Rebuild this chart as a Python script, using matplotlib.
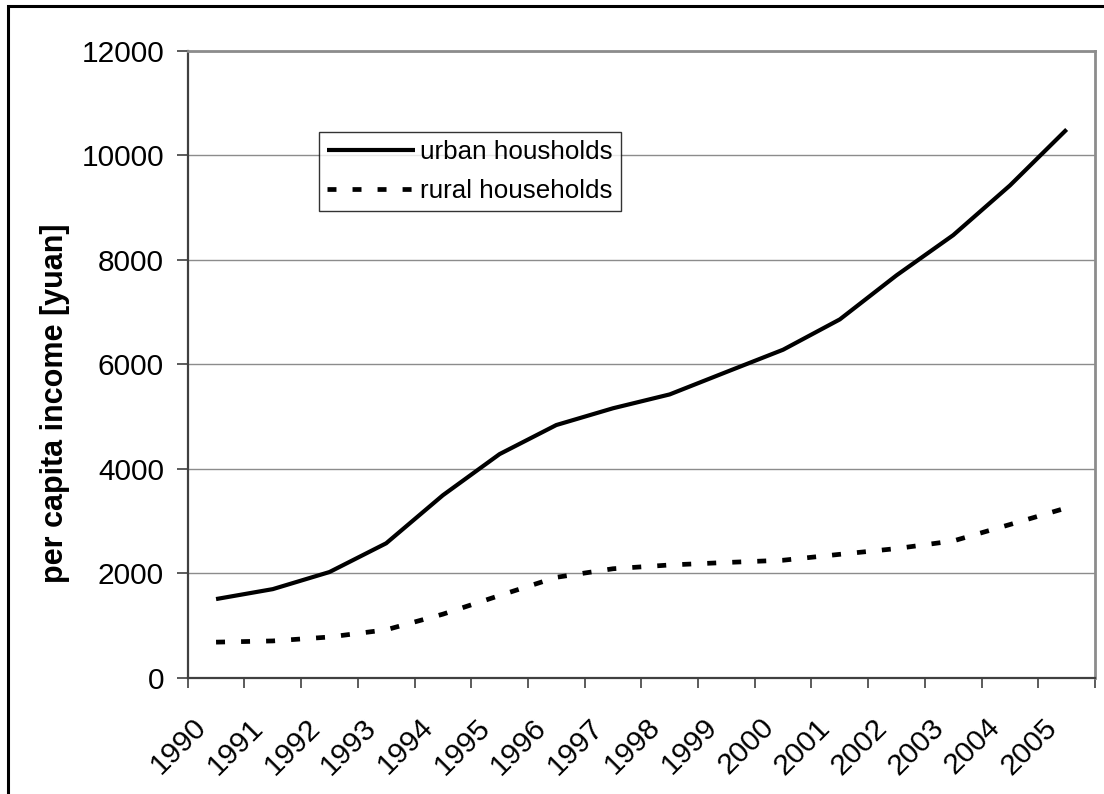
import matplotlib
matplotlib.use("Agg")
import matplotlib.pyplot as plt
import matplotlib.transforms as mtransforms
from matplotlib.patches import Rectangle
import numpy as np

years = ["1990", "1991", "1992", "1993", "1994", "1995", "1996", "1997",
         "1998", "1999", "2000", "2001", "2002", "2003", "2004", "2005"]
urban = [1510, 1700, 2027, 2577, 3496, 4283, 4839, 5160,
         5425, 5854, 6280, 6860, 7703, 8472, 9422, 10493]
rural = [686, 709, 784, 922, 1221, 1578, 1926, 2090,
         2162, 2210, 2253, 2366, 2476, 2622, 2936, 3255]
yticks = [0, 2000, 4000, 6000, 8000, 10000, 12000]
ylabel = "per capita income [yuan]"
legend_labels = ["urban housholds", "rural households"]

plt.rcParams['font.family'] = ['Liberation Sans', 'DejaVu Sans']

W, H = 1104, 794
fig = plt.figure(figsize=(W / 100, H / 100), dpi=100)
fig.patch.set_facecolor('white')

def px(x0, y0, x1, y1):
    return [x0 / W, 1 - y1 / H, (x1 - x0) / W, (y1 - y0) / H]

ax = fig.add_axes(px(187.7, 50.7, 1095, 678))

n = len(years)
xs = np.arange(n) + 0.5
ax.plot(xs, urban, color='black', lw=3.0, solid_capstyle='butt',
        label=legend_labels[0])
ax.plot(xs, rural, color='black', lw=3.4, linestyle=(0, (1.9, 3.4)),
        dash_capstyle='butt', label=legend_labels[1])

ax.set_xlim(0, n)
ax.set_ylim(0, 12000)
ax.set_yticks(yticks)
ax.set_yticklabels([str(v) for v in yticks], fontsize=21.5)
ax.yaxis.grid(True, color='#8c8c8c', lw=1.0)
ax.set_axisbelow(True)

# x tick marks at category boundaries, labels at centers
ax.set_xticks(np.arange(n + 1), minor=True)
ax.set_xticks(xs)
ax.set_xticklabels(years, fontsize=21.5, rotation=45, ha='right',
                   va='center', rotation_mode='anchor')
ax.tick_params(axis='x', which='major', length=0, pad=0)
ax.tick_params(axis='x', which='minor', length=7, width=1.2, color='#404040',
               direction='out')
ax.tick_params(axis='y', length=8, width=1.2, color='#404040', pad=9)
offset = mtransforms.ScaledTranslation(-14 / 100, -45 / 100, fig.dpi_scale_trans)
for lab in ax.get_xticklabels():
    lab.set_transform(lab.get_transform() + offset)

for s in ['left', 'bottom']:
    ax.spines[s].set_color('#404040')
    ax.spines[s].set_linewidth(1.6)
for s in ['top', 'right']:
    ax.spines[s].set_color('#8c8c8c')
    ax.spines[s].set_linewidth(2.0)

fig.text(55 / W, 1 - 403 / H, ylabel, rotation=90, ha='center', va='center',
         fontsize=22, fontweight='bold')

leg = ax.legend(loc='upper left', bbox_to_anchor=(319 / W, 1 - 132.3 / H),
                bbox_transform=fig.transFigure, fontsize=18.7,
                frameon=True, fancybox=False, edgecolor='black',
                handlelength=3.4, handletextpad=0.2, labelspacing=0.58,
                borderpad=0.3, borderaxespad=0)
leg.get_frame().set_linewidth(1.0)

fig.patches.append(Rectangle((8 / W, -0.05), 1.2, 1 - 6 / H + 0.05,
                             transform=fig.transFigure, fill=False,
                             edgecolor='black', lw=2.2))

fig.savefig('out.png', dpi=100)
